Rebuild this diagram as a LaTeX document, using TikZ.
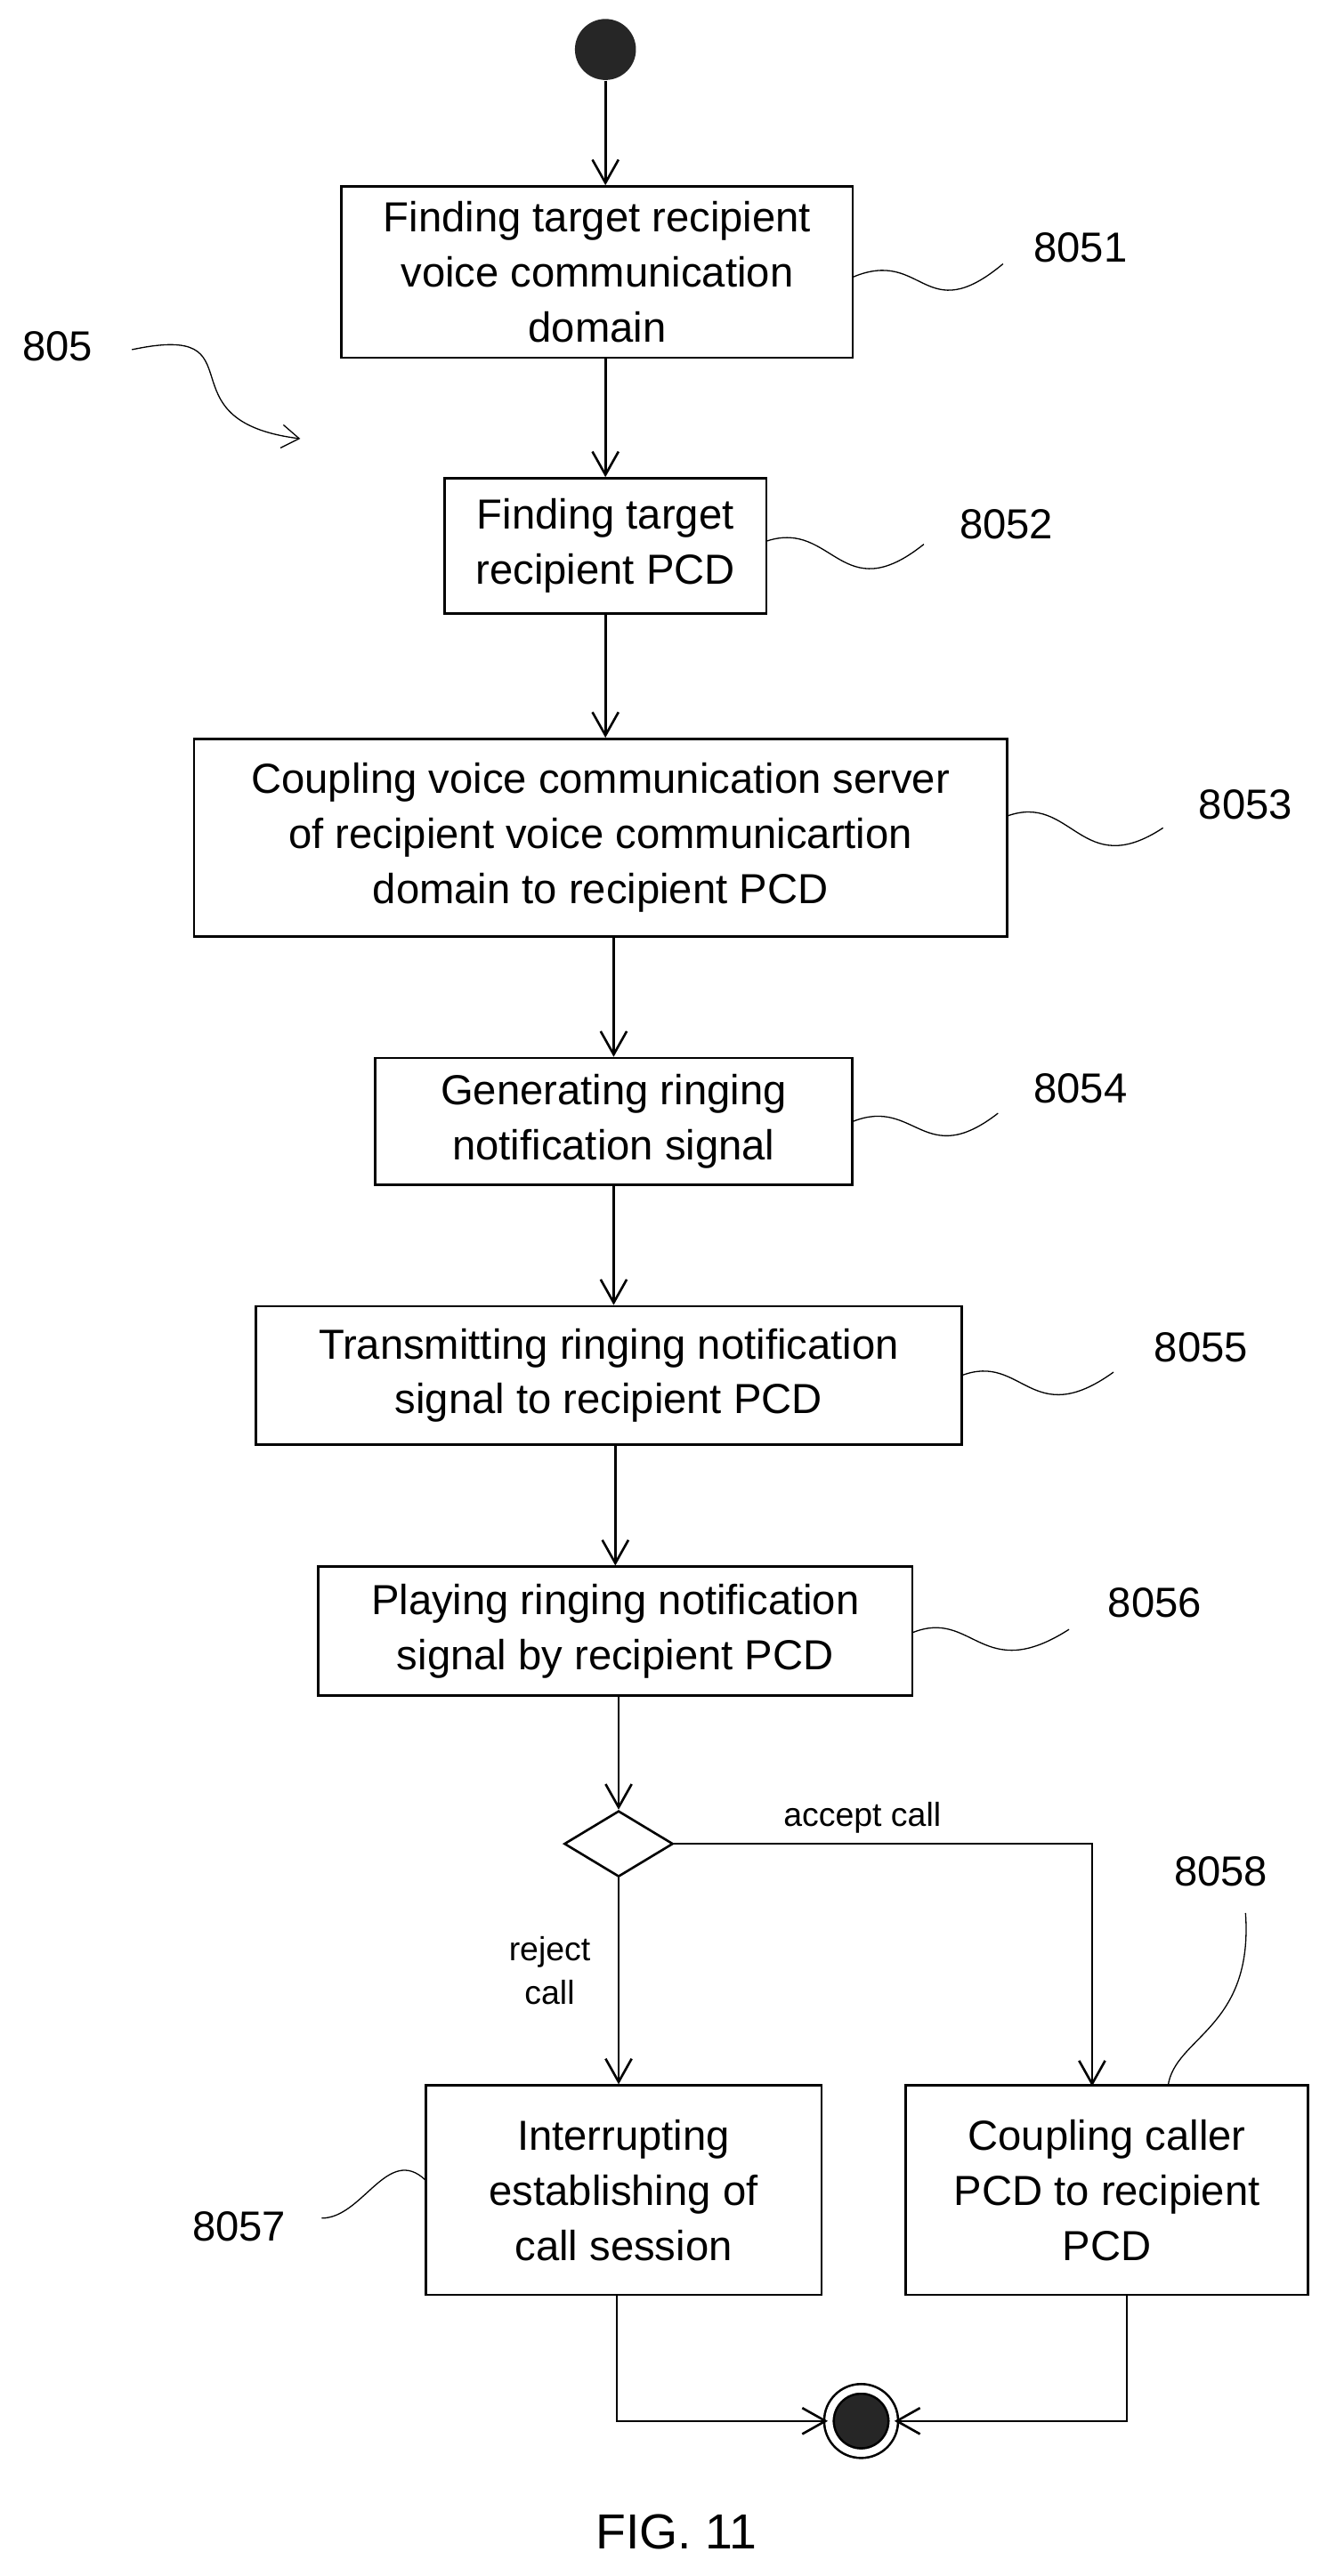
\documentclass[tikz,border=0pt]{standalone}
\usepackage{fontspec}
\setmainfont{Liberation Sans}
\usetikzlibrary{arrows.meta,shapes.geometric}

\tikzset{
    stepbox/.style={draw, thick, align=center, inner sep=2pt,
        font=\fontsize{14.5pt}{19pt}\selectfont},
    refnum/.style={font=\fontsize{14.5pt}{18pt}\selectfont},
    flow/.style={thick, -{Straight Barb[length=8pt,width=9pt]}},
    wiggle/.style={thin}
}

\begin{document}
\begin{tikzpicture}[x=0.02cm, y=-0.02cm]
    \useasboundingbox (0,0) rectangle (800,1562);

    % start and end
    \node[circle, fill=black!85, minimum size=0.74cm, inner sep=0] (start) at (367,30) {};
    \node[circle, draw, thick, double, double distance=2.5pt, fill=black!85,
        minimum size=0.78cm, inner sep=0] (stop) at (522,1468) {};

    % steps
    \node[stepbox, minimum width=6.2cm, minimum height=2.08cm] (s1) at (362,165)
        {Finding target recipient\\voice communication\\domain};
    \node[stepbox, minimum width=3.9cm, minimum height=1.64cm] (s2) at (367,331)
        {Finding target\\recipient PCD};
    \node[stepbox, minimum width=9.86cm, minimum height=2.4cm] (s3) at (364,508)
        {Coupling voice communication server\\of recipient voice communicartion\\domain to recipient PCD};
    \node[stepbox, minimum width=5.78cm, minimum height=1.54cm] (s4) at (372,680)
        {Generating ringing\\notification signal};
    \node[stepbox, minimum width=8.56cm, minimum height=1.68cm] (s5) at (369,834)
        {Transmitting ringing notification\\signal to recipient PCD};
    \node[stepbox, minimum width=7.2cm, minimum height=1.56cm] (s6) at (373,989)
        {Playing ringing notification\\signal by recipient PCD};
    \node[draw, thick, diamond, minimum width=1.32cm, minimum height=0.8cm,
        inner sep=0] (choice) at (375,1118) {};
    \node[stepbox, minimum width=4.8cm, minimum height=2.54cm] (s7) at (378,1328)
        {Interrupting\\establishing of\\call session};
    \node[stepbox, minimum width=4.88cm, minimum height=2.54cm] (s8) at (671,1328)
        {Coupling caller\\PCD to recipient\\PCD};

    % flow
    \draw[flow] (start) -- (start |- s1.north);
    \draw[flow] (s2 |- s1.south) -- (s2.north);
    \draw[flow] (s2.south) -- (s2.south |- s3.north);
    \draw[flow] (s4 |- s3.south) -- (s4.north);
    \draw[flow] (s4.south) -- (s4.south |- s5.north);
    \draw[flow] (s6 |- s5.south) -- (s6.north);
    \draw[flow] (choice |- s6.south) -- (choice.north);
    \draw[flow] (choice.south) -- node[pos=0.45, left, xshift=-6pt, align=center,
        font=\fontsize{11.5pt}{15pt}\selectfont] {reject\\call} (choice.south |- s7.north);
    \draw[flow] (choice.east) -- node[above, pos=0.45,
        font=\fontsize{11.5pt}{15pt}\selectfont] {accept call} (662,1118) -- (662,1265);
    \draw[flow] (374,1392) |- (stop.west);
    \draw[flow] (683,1392) |- (stop.east);

    % reference numbers
    \node[refnum] (r805) at (35,210) {805};
    \node[refnum] (r8051) at (655,150) {8051};
    \node[refnum] (r8052) at (610,318) {8052};
    \node[refnum] (r8053) at (755,488) {8053};
    \node[refnum] (r8054) at (655,660) {8054};
    \node[refnum] (r8055) at (728,817) {8055};
    \node[refnum] (r8056) at (700,972) {8056};
    \node[refnum] (r8057) at (145,1350) {8057};
    \node[refnum] (r8058) at (740,1135) {8058};
    \node[refnum, font=\fontsize{17pt}{20pt}\selectfont] (fig) at (410,1535) {FIG. 11};

    % lead lines
    \draw[thin, -{Straight Barb[length=6pt,width=8pt]}] (80,212) .. controls (160,195) and (95,255) .. (182,266);
    \draw[wiggle] (517,168) .. controls (560,150) and (560,200) .. (608,160);
    \draw[wiggle] (465,328) .. controls (505,315) and (510,370) .. (560,330);
    \draw[wiggle] (610,495) .. controls (650,480) and (655,535) .. (705,502);
    \draw[wiggle] (517,680) .. controls (555,665) and (560,710) .. (605,675);
    \draw[wiggle] (583,834) .. controls (620,820) and (625,868) .. (675,832);
    \draw[wiggle] (553,990) .. controls (590,975) and (595,1022) .. (648,988);
    \draw[wiggle] (258,1322) .. controls (235,1300) and (220,1345) .. (195,1345);
    \draw[wiggle] (708,1265) .. controls (712,1235) and (760,1230) .. (755,1160);
\end{tikzpicture}
\end{document}
